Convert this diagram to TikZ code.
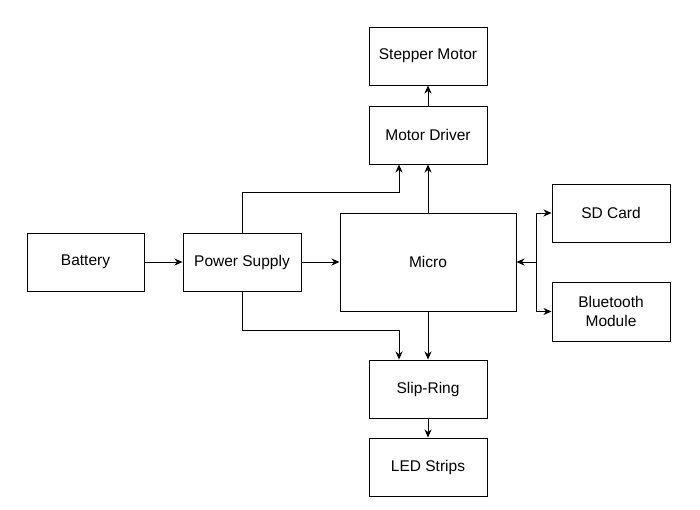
\documentclass[tikz,border=0pt]{standalone}
\usepackage{fontspec}
\setmainfont{Liberation Sans}
\usetikzlibrary{arrows.meta}
\begin{document}
\begin{tikzpicture}[x=1pt,y=-1pt,
  blk/.style={draw=black, line width=1pt, fill=white, inner sep=0pt, align=center,
    font=\fontsize{15.5}{19.5}\selectfont},
  conn/.style={draw=black, line width=1pt, -{Stealth[length=8pt,width=7pt,inset=2.5pt]}},
  bconn/.style={draw=black, line width=1pt, {Stealth[length=8pt,width=7pt,inset=2.5pt]}-{Stealth[length=8pt,width=7pt,inset=2.5pt]}}]
\useasboundingbox (0,0) rectangle (700,509);
\node[blk, minimum width=118pt, minimum height=58pt] (step) at (428,56) {Stepper Motor};
\node[blk, minimum width=118pt, minimum height=58pt] (md) at (428,135) {Motor Driver};
\node[blk, minimum width=176pt, minimum height=98pt] (micro) at (428,262) {Micro};
\node[blk, minimum width=117pt, minimum height=58pt] (bat) at (85.5,262) {Battery};
\node[blk, minimum width=118pt, minimum height=58pt] (ps) at (242,262) {Power Supply};
\node[blk, minimum width=118pt, minimum height=58pt] (sd) at (611,213) {SD Card};
\node[blk, minimum width=118pt, minimum height=59pt] (bt) at (611,311.5) {Bluetooth\\Module};
\node[blk, minimum width=118pt, minimum height=58pt] (slip) at (428,389) {Slip-Ring};
\node[blk, minimum width=118pt, minimum height=58pt] (led) at (428,467) {LED Strips};
\coordinate (j) at (536,262);
\draw[conn] (bat) -- (ps);
\draw[conn] (ps) -- (micro);
\draw[conn] (md) -- (step);
\draw[conn] (micro.north) -- (md.south);
\draw[conn] (micro.south) -- (slip.north);
\draw[conn] (slip) -- (led);
\draw[conn] (ps.north) -- ++(0,-40) -| ([xshift=-29pt]md.south);
\draw[conn] (ps.south) -- ++(0,39) -| ([xshift=-29pt]slip.north);
\draw[conn] (j) -- (micro.east);
\draw[conn] (j) |- (sd.west);
\draw[conn] (j) |- (bt.west);
\end{tikzpicture}
\end{document}
